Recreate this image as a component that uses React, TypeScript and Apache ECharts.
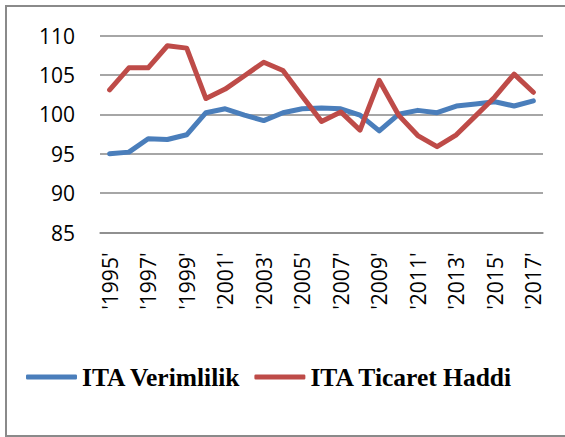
import React, { useEffect, useRef } from "react";
import * as echarts from "echarts";

const years = [
  "'1995'", "'1996'", "'1997'", "'1998'", "'1999'", "'2000'", "'2001'", "'2002'",
  "'2003'", "'2004'", "'2005'", "'2006'", "'2007'", "'2008'", "'2009'", "'2010'",
  "'2011'", "'2012'", "'2013'", "'2014'", "'2015'", "'2016'", "'2017'",
];

const verimlilik = [
  95.0, 95.2, 96.9, 96.8, 97.4, 100.2, 100.7, 99.9, 99.2, 100.2, 100.7, 100.8,
  100.7, 99.9, 97.9, 100.0, 100.5, 100.2, 101.05, 101.3, 101.6, 101.05, 101.7,
];

const ticaretHaddi = [
  103.1, 105.9, 105.9, 108.7, 108.4, 102.0, 103.2, 104.9, 106.6, 105.55, 102.3,
  99.1, 100.3, 98.0, 104.3, 99.9, 97.3, 95.9, 97.4, 99.8, 102.2, 105.1, 102.8,
];

const seriesNames = ["ITA Verimlilik", "ITA Ticaret Haddi"];
const seriesColors = ["#4A7EBB", "#BE4B48"];

export default function App() {
  const ref = useRef<HTMLDivElement>(null);

  useEffect(() => {
    if (!ref.current) return;
    const chart = echarts.init(ref.current, null, { renderer: "svg" });
    const axisFont = { fontFamily: "Open Sans", fontSize: 21, color: "#000" };
    chart.setOption({
      animation: false,
      backgroundColor: "#fff",
      grid: { left: 100, right: 22, top: 35.5, bottom: 204.5, containLabel: false },
      xAxis: {
        type: "category",
        data: years,
        boundaryGap: true,
        axisLine: { show: true, lineStyle: { color: "#898989", width: 1.5 } },
        axisTick: { show: false },
        axisLabel: { ...axisFont, rotate: 90, interval: 1, margin: 20 },
      },
      yAxis: {
        type: "value",
        min: 85,
        max: 110,
        interval: 5,
        axisLine: { show: false },
        axisTick: { show: false },
        axisLabel: { ...axisFont, margin: 25 },
        splitLine: { lineStyle: { color: "#898989", width: 1.5 } },
      },
      legend: {
        left: 21,
        top: 359,
        itemWidth: 51,
        itemHeight: 5,
        itemGap: 13,
        icon: "roundRect",
        textStyle: {
          fontFamily: "Liberation Serif",
          fontWeight: "bold",
          fontSize: 25.5,
          color: "#000",
        },
        data: seriesNames,
      },
      series: [
        {
          name: seriesNames[0],
          type: "line",
          data: verimlilik,
          symbol: "none",
          color: seriesColors[0],
          lineStyle: { width: 5, color: seriesColors[0], cap: "round", join: "round" },
        },
        {
          name: seriesNames[1],
          type: "line",
          data: ticaretHaddi,
          symbol: "none",
          color: seriesColors[1],
          lineStyle: { width: 5, color: seriesColors[1], cap: "round", join: "round" },
        },
      ],
      graphic: [
        {
          type: "rect",
          shape: { x: 6, y: 6, width: 600, height: 430 },
          style: { fill: "none", stroke: "#8a8a8a", lineWidth: 2 },
          silent: true,
        },
      ],
    });
    return () => chart.dispose();
  }, []);

  return (
    <div
      ref={ref}
      style={{ position: "fixed", left: 0, top: 0, width: 565, height: 437 }}
    />
  );
}
